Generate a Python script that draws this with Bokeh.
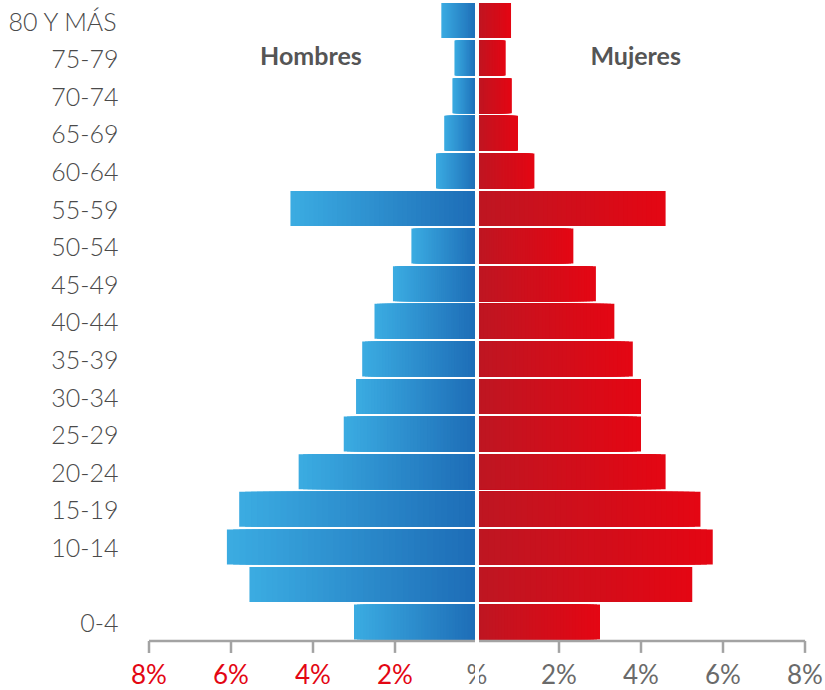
from bokeh.plotting import figure
from bokeh.models import FixedTicker, Range1d, Span, ColumnDataSource
from bokeh.core.properties import value
from bokeh.embed import file_html
from bokeh.resources import INLINE

# ---- data (percent of population) ----
grupos = ["0-4", "5-9", "10-14", "15-19", "20-24", "25-29", "30-34", "35-39",
          "40-44", "45-49", "50-54", "55-59", "60-64", "65-69", "70-74", "75-79", "80 Y MÁS"]
etiquetas_y = ["0-4", "", "10-14", "15-19", "20-24", "25-29", "30-34", "35-39",
               "40-44", "45-49", "50-54", "55-59", "60-64", "65-69", "70-74", "75-79", "80 Y MÁS"]
hombres = [3.0, 5.55, 6.1, 5.8, 4.35, 3.25, 2.95, 2.8, 2.5, 2.05, 1.6, 4.55, 1.0, 0.8, 0.6, 0.55, 0.87]
mujeres = [3.0, 5.25, 5.75, 5.45, 4.6, 4.0, 4.0, 3.8, 3.35, 2.9, 2.35, 4.6, 1.4, 1.0, 0.85, 0.7, 0.83]
ticks_x = [-8, -6, -4, -2, 0, 2, 4, 6, 8]
ticks_x_labels = ["8%", "6%", "4%", "2%", "%", "2%", "4%", "6%", "8%"]

FONT = "Lato"
FONT_LIGHT = "Lato Light, Lato"
GRAY = "#555555"
AXIS_GRAY = "#a3a3a3"
BLUE_OUT, BLUE_IN = (0x3B, 0xAC, 0xE2), (0x1D, 0x6C, 0xB6)
RED_IN, RED_OUT = (0xBE, 0x16, 0x22), (0xE4, 0x06, 0x13)


def mix(c1, c2, t):
    return "#%02x%02x%02x" % tuple(int(round(a + (b - a) * t)) for a, b in zip(c1, c2))


# gradient bars: nested bars from the centre, longest (outer colour) drawn first
N = 40
ys, lefts, rights, colors = [], [], [], []
for i, (h, m) in enumerate(zip(hombres, mujeres)):
    for k in range(N - 1, -1, -1):
        t = (k + 1) / N
        ys.append(i); lefts.append(-h * t); rights.append(0)
        colors.append(mix(BLUE_IN, BLUE_OUT, (k + 0.5) / N))
        ys.append(i); lefts.append(0); rights.append(m * t)
        colors.append(mix(RED_IN, RED_OUT, (k + 0.5) / N))

src = ColumnDataSource(dict(y=ys, left=lefts, right=rights, color=colors))

W, H = 825, 690
LEFT = 130
PX_X = 41.0       # pixels per percent
ZERO_PX = 476.5
ROW_PX = 37.6
TOP_CENTER_PX = 20
TICK_LEN = 12 / ROW_PX
y_top = (len(grupos) - 1) + TOP_CENTER_PX / ROW_PX
y_bottom = y_top - H / ROW_PX
x_start = (LEFT - ZERO_PX) / PX_X
x_end = (W - ZERO_PX) / PX_X

p = figure(width=W, height=H, output_backend="svg", toolbar_location=None,
           x_range=Range1d(x_start, x_end), y_range=Range1d(y_bottom, y_top),
           min_border_left=LEFT, min_border_right=0, min_border_top=0, min_border_bottom=0)
p.outline_line_color = None
p.grid.visible = False
p.xaxis.visible = False

p.hbar(y="y", left="left", right="right", height=0.93, fill_color="color",
       line_color=None, source=src)

# white gap in the middle
p.add_layout(Span(location=0, dimension="height", line_color="white", line_width=4))

# y axis (age groups)
p.yaxis.ticker = FixedTicker(ticks=list(range(len(grupos))))
p.yaxis.major_label_overrides = {i: lab for i, lab in enumerate(etiquetas_y)}
p.yaxis.axis_line_color = None
p.yaxis.major_tick_line_color = None
p.yaxis.minor_tick_line_color = None
p.yaxis.major_label_standoff = 6
p.yaxis.major_label_text_font = FONT_LIGHT
p.yaxis.major_label_text_font_size = "25px"
p.yaxis.major_label_text_color = "#4a4a4a"

# x axis drawn inside the frame so the tick labels can have two colours
base = -0.5
p.segment(x0=[min(ticks_x)], y0=[base], x1=[max(ticks_x)], y1=[base],
          line_color=AXIS_GRAY, line_width=2.5)
p.segment(x0=ticks_x, y0=[base] * len(ticks_x), x1=ticks_x,
          y1=[base - TICK_LEN] * len(ticks_x), line_color=AXIS_GRAY, line_width=2.5)
lab_colors = ["#e30613" if t < 0 else "#6a6a6a" for t in ticks_x]
tsrc = ColumnDataSource(dict(x=ticks_x, y=[base] * len(ticks_x), text=ticks_x_labels, color=lab_colors))
p.text(x="x", y="y", text="text", source=tsrc, text_color="color",
       text_font=value(FONT), text_font_size="26px", text_align="center",
       text_baseline="alphabetic", y_offset=33)

# series titles
p.text(x=[-4.05, 3.87], y=[15.08, 15.08], text=["Hombres", "Mujeres"], text_font=value(FONT),
       text_font_style="bold", text_font_size="25px", text_color=GRAY,
       text_align="center", text_baseline="middle")

open("out.html", "w").write(file_html(p, INLINE))
